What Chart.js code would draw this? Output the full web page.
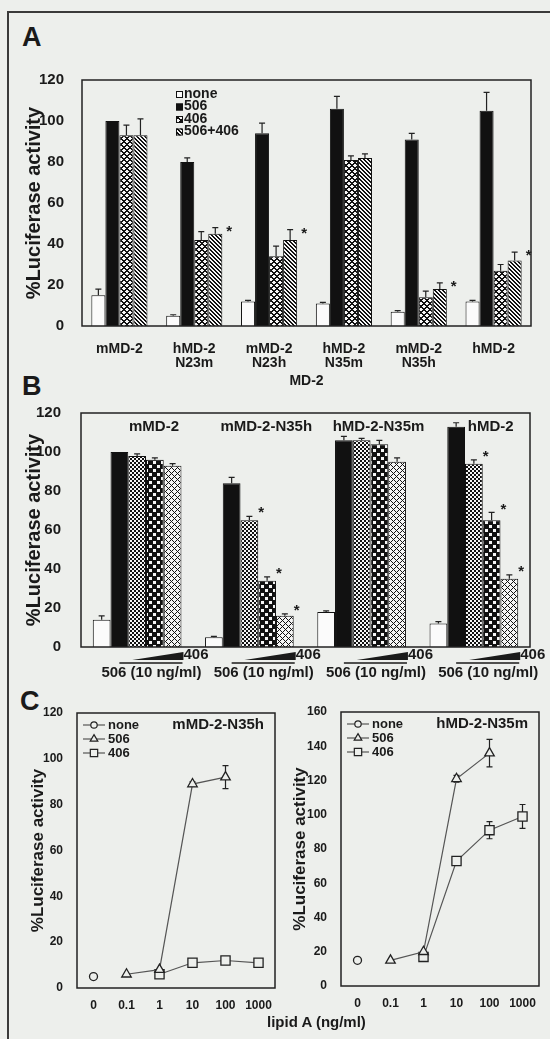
<!DOCTYPE html>
<html>
<head>
<meta charset="utf-8">
<script src="https://cdn.jsdelivr.net/npm/chart.js@4.4.1/dist/chart.umd.min.js"></script>
<style>
  html, body { margin: 0; padding: 0; }
  body { width: 550px; height: 1039px; background: #edefec; position: relative; overflow: hidden;
         font-family: "Liberation Sans", Arial, sans-serif; color: #1a1a1a; }
  canvas { position: absolute; }
  .frame { position: absolute; left: 7px; top: 11px; width: 560px; height: 1040px;
           border-top: 2px solid #3a3a3a; border-left: 2px solid #3a3a3a; }
  .letter { position: absolute; font-weight: bold; font-size: 27px; line-height: 1; }
  .note { position: absolute; font-weight: bold; font-size: 15px; line-height: 1; white-space: nowrap; }
</style>
</head>
<body>
<div class="frame"></div>
<div class="letter" style="left:22px; top:24px">A</div>
<div class="letter" style="left:22px; top:373px">B</div>
<div class="letter" style="left:20px; top:688px">C</div>
<canvas id="chartA" width="550" height="400" style="left:0; top:0"></canvas>
<canvas id="chartB" width="550" height="310" style="left:0; top:380px"></canvas>
<canvas id="chartCLeft" width="290" height="349" style="left:0; top:690px"></canvas>
<canvas id="chartCRight" width="270" height="349" style="left:280px; top:690px"></canvas>
<div class="note" style="left:267px; top:1014px">lipid A (ng/ml)</div>

<script>
    'use strict';

    // ---- panel A: MD-2 chimeras, 4 treatments ----
    const aGroups = [['mMD-2'], ['hMD-2', 'N23m'], ['mMD-2', 'N23h'], ['hMD-2', 'N35m'], ['mMD-2', 'N35h'], ['hMD-2']];
    const aNone = [15, 5, 12, 11, 7, 12];
    const aNoneErr = [3, 0.5, 0.5, 0.5, 0.5, 0.5];
    const a506 = [100, 80, 94, 106, 91, 105];
    const a506Err = [0, 2, 5, 6, 3, 9];
    const a406 = [93, 42, 34, 81, 14, 27];
    const a406Err = [5, 4, 5, 2, 3, 3];
    const aBoth = [93, 45, 42, 82, 18, 32];
    const aBothErr = [8, 3, 5, 2, 3, 4];
    const aStars = [false, true, true, false, true, true];

    // ---- panel B: 506 (10 ng/ml) plus rising 406 ----
    const bGroups = ['mMD-2', 'mMD-2-N35h', 'hMD-2-N35m', 'hMD-2'];
    const bNone = [14, 5, 18, 12];
    const bNoneErr = [2, 0.5, 0.5, 1];
    const b506 = [100, 84, 106, 113];
    const b506Err = [0, 3, 2, 2];
    const b406Low = [98, 65, 106, 94];
    const b406LowErr = [1, 2, 1, 2];
    const b406Mid = [96, 34, 104, 65];
    const b406MidErr = [1, 2, 2, 4];
    const b406High = [93, 16, 95, 35];
    const b406HighErr = [1, 1, 2, 2];
    const bStars = [false, true, false, true];

    // ---- panel C: dose response ----
    const doseLabels = ['0', '0.1', '1', '10', '100', '1000'];
    const cTitles = ['mMD-2-N35h', 'hMD-2-N35m'];
    const cLeftNone = [5, null, null, null, null, null];
    const cLeft506 = [null, 6, 8, 89, 92, null];
    const cLeft506Err = [0, 0, 0, 1, 5, 0];
    const cLeft406 = [null, null, 6, 11, 12, 11];
    const cLeft406Err = [0, 0, 0, 1, 1, 1];
    const cRightNone = [15, null, null, null, null, null];
    const cRight506 = [null, 15, 20, 121, 136, null];
    const cRight506Err = [0, 0, 0, 2, 8, 0];
    const cRight406 = [null, null, 17, 73, 91, 99];
    const cRight406Err = [0, 0, 0, 2, 5, 7];

    const FONT = '"Liberation Sans", Arial, sans-serif';
    const INK = '#1a1a1a';
    const PAPER = '#edefec';

    Chart.defaults.font.family = FONT;
    Chart.defaults.font.weight = 'bold';
    Chart.defaults.color = INK;
    Chart.defaults.animation = false;
    Chart.defaults.responsive = false;
    Chart.defaults.plugins.legend.display = false;
    Chart.defaults.plugins.tooltip.enabled = false;

    function makePattern(size, isDark) {
        const c = document.createElement('canvas');
        c.width = c.height = size;
        const g = c.getContext('2d');
        g.fillStyle = '#f6f6f6';
        g.fillRect(0, 0, size, size);
        g.fillStyle = '#111';
        for (let y = 0; y < size; y++)
            for (let x = 0; x < size; x++)
                if (isDark(x, y)) g.fillRect(x, y, 1, 1);
        return g.createPattern(c, 'repeat');
    }

    const patLattice = makePattern(6, (x, y) => (x + y) % 6 < 2 || (x - y + 6) % 6 < 2);
    const patStripe = makePattern(4, (x, y) => (x - y + 4) % 4 < 2);
    const patFine = makePattern(4, (x, y) => ((x >> 1) + (y >> 1)) % 2 === 0);
    const patCheck = makePattern(8, (x, y) => !((x % 8 >= 1 && x % 8 <= 3 && y % 8 >= 1 && y % 8 <= 3) ||
                                                (x % 8 >= 5 && x % 8 <= 7 && y % 8 >= 5 && y % 8 <= 7)));
    const patThin = makePattern(6, (x, y) => (x + y) % 6 === 0 || (x - y + 6) % 6 === 0);

    // outline round the plot area
    const boxFrame = {
        id: 'boxFrame',
        afterDraw(chart) {
            const { ctx, chartArea: a } = chart;
            ctx.save();
            ctx.strokeStyle = '#222';
            ctx.lineWidth = 1.5;
            ctx.strokeRect(a.left, a.top, a.right - a.left, a.bottom - a.top);
            ctx.restore();
        }
    };

    function drawErrors(chart, opts) {
        const ctx = chart.ctx, ys = chart.scales.y;
        const isLine = chart.config.type === 'line';
        ctx.save();
        ctx.strokeStyle = '#222';
        ctx.lineWidth = 1.2;
        chart.data.datasets.forEach((ds, di) => {
            if (!ds.errors) return;
            const meta = chart.getDatasetMeta(di);
            meta.data.forEach((el, i) => {
                const raw = ds.data[i];
                const v = raw !== null && typeof raw === 'object' ? raw.y : raw;
                if (v == null) return;
                const e = ds.errors[i] || 0;
                const top = ys.getPixelForValue(v + e);
                const bot = isLine ? ys.getPixelForValue(v - e) : el.y;
                if (e > 0) {
                    ctx.beginPath();
                    ctx.moveTo(el.x, bot);
                    ctx.lineTo(el.x, top);
                    ctx.moveTo(el.x - 3, top);
                    ctx.lineTo(el.x + 3, top);
                    if (isLine) {
                        ctx.moveTo(el.x - 3, bot);
                        ctx.lineTo(el.x + 3, bot);
                    }
                    ctx.stroke();
                }
                if (ds.stars && ds.stars[i]) {
                    ctx.fillStyle = INK;
                    ctx.font = 'bold 15px ' + FONT;
                    ctx.textAlign = 'left';
                    ctx.textBaseline = 'middle';
                    ctx.fillText('*', el.x + el.width / 2 + opts.starDx, top + opts.starDy);
                }
            });
        });
        ctx.restore();
    }

    const errorBars = {
        id: 'errorBars',
        beforeDatasetsDraw(chart, args, opts) {
            if (chart.config.type === 'line') drawErrors(chart, opts);
        },
        afterDatasetsDraw(chart, args, opts) {
            if (chart.config.type !== 'line') drawErrors(chart, opts);
        }
    };

    // small key of the bar fills, panel A
    const barLegend = {
        id: 'barLegend',
        afterDraw(chart, args, opts) {
            const { ctx, chartArea } = chart;
            ctx.save();
            ctx.font = 'bold 14px ' + FONT;
            ctx.textBaseline = 'middle';
            ctx.textAlign = 'left';
            chart.data.datasets.forEach((ds, i) => {
                const x = chartArea.left + opts.x, y = chartArea.top + opts.y + i * opts.step;
                ctx.fillStyle = ds.backgroundColor;
                ctx.fillRect(x, y - 3, 7, 7);
                ctx.strokeStyle = '#111';
                ctx.lineWidth = 1;
                ctx.strokeRect(x + 0.5, y - 2.5, 6, 6);
                ctx.fillStyle = INK;
                ctx.fillText(ds.label, x + 8, y);
            });
            ctx.restore();
        }
    };

    // group names inside panel B, over the treated bars
    const groupTitles = {
        id: 'groupTitles',
        afterDraw(chart, args, opts) {
            const { ctx, chartArea } = chart;
            const first = chart.getDatasetMeta(1), last = chart.getDatasetMeta(4);
            ctx.save();
            ctx.font = 'bold 15px ' + FONT;
            ctx.fillStyle = INK;
            ctx.textAlign = 'center';
            ctx.textBaseline = 'middle';
            chart.data.labels.forEach((label, i) => {
                ctx.fillText(label, (first.data[i].x + last.data[i].x) / 2 + opts.dx, chartArea.top + 14);
            });
            ctx.restore();
        }
    };

    // wedge + bar under each panel B group
    const doseWedges = {
        id: 'doseWedges',
        afterDraw(chart, args, opts) {
            const { ctx, chartArea } = chart;
            const base = chartArea.bottom;
            const m506 = chart.getDatasetMeta(1), mLow = chart.getDatasetMeta(2), mHigh = chart.getDatasetMeta(4);
            ctx.save();
            ctx.font = 'bold 15px ' + FONT;
            ctx.fillStyle = INK;
            ctx.strokeStyle = INK;
            ctx.textBaseline = 'middle';
            chart.data.labels.forEach((_, i) => {
                const b = m506.data[i], lo = mLow.data[i], hi = mHigh.data[i];
                const x0 = lo.x - lo.width / 2 + 4, x1 = hi.x + hi.width / 2 + 2;
                ctx.beginPath();
                ctx.moveTo(x0, base + 13);
                ctx.lineTo(x1, base + 5);
                ctx.lineTo(x1, base + 13);
                ctx.closePath();
                ctx.fill();
                ctx.textAlign = 'left';
                ctx.fillText(opts.doseLabel, x1, base + 8);
                ctx.lineWidth = 1.5;
                ctx.beginPath();
                ctx.moveTo(b.x, base + 16);
                ctx.lineTo(x1 - 1, base + 16);
                ctx.stroke();
                ctx.textAlign = 'center';
                ctx.fillText(opts.baseLabel, (b.x + x1) / 2, base + 26);
            });
            ctx.restore();
        }
    };

    function drawMarker(ctx, style, r, x, y) {
        ctx.beginPath();
        if (style === 'circle') {
            ctx.arc(x, y, r, 0, Math.PI * 2);
        } else if (style === 'triangle') {
            ctx.moveTo(x, y - r);
            ctx.lineTo(x + r * 0.866, y + r * 0.5);
            ctx.lineTo(x - r * 0.866, y + r * 0.5);
            ctx.closePath();
        } else {
            const s = r * Math.SQRT1_2;
            ctx.rect(x - s, y - s, 2 * s, 2 * s);
        }
        ctx.fill();
        ctx.stroke();
    }

    // -o- none / -^- 506 / -[]- 406 key and the panel name, panel C
    const lineLegend = {
        id: 'lineLegend',
        afterDraw(chart, args, opts) {
            const { ctx, chartArea } = chart;
            ctx.save();
            ctx.textBaseline = 'middle';
            chart.data.datasets.forEach((ds, i) => {
                const x = chartArea.left + opts.x, y = chartArea.top + opts.y + i * opts.step;
                ctx.strokeStyle = ds.borderColor;
                ctx.lineWidth = 1.2;
                ctx.beginPath();
                ctx.moveTo(x, y);
                ctx.lineTo(x + 22, y);
                ctx.stroke();
                ctx.fillStyle = PAPER;
                ctx.strokeStyle = '#222';
                drawMarker(ctx, ds.pointStyle, ds.pointRadius * 0.8, x + 11, y);
                ctx.fillStyle = INK;
                ctx.font = 'bold 13px ' + FONT;
                ctx.textAlign = 'left';
                ctx.fillText(ds.label, x + 25, y);
            });
            ctx.font = 'bold 15px ' + FONT;
            ctx.textAlign = 'right';
            ctx.fillText(opts.title, chartArea.right - opts.titleRight, chartArea.top + 12);
            ctx.restore();
        }
    };

    function barDataset(label, data, errors, fill, stars) {
        return {
            label: label, data: data, errors: errors, stars: stars,
            backgroundColor: fill, borderColor: '#111', borderWidth: 1
        };
    }

    new Chart(document.getElementById('chartA'), {
        type: 'bar',
        data: {
            labels: aGroups,
            datasets: [
                barDataset('none', aNone, aNoneErr, '#fbfbfb'),
                barDataset('506', a506, a506Err, '#111'),
                barDataset('406', a406, a406Err, patLattice),
                barDataset('506+406', aBoth, aBothErr, patStripe, aStars)
            ]
        },
        options: {
            layout: { padding: { top: 80, right: 19, left: 0, bottom: 0 } },
            datasets: { bar: { categoryPercentage: 0.75, barPercentage: 1 } },
            scales: {
                x: {
                    grid: { display: false },
                    border: { display: false },
                    ticks: { font: { size: 14, lineHeight: 1 }, padding: 8, maxRotation: 0, autoSkip: false },
                    title: { display: true, text: 'MD-2', font: { size: 14 }, padding: { top: 0, bottom: 10 } },
                    afterFit: s => { s.height = 74; }
                },
                y: {
                    min: 0, max: 120,
                    ticks: { stepSize: 20, font: { size: 15 }, padding: 10 },
                    grid: { display: false },
                    border: { display: false },
                    title: { display: true, text: '%Luciferase activity', font: { size: 20 }, padding: { top: 22 } },
                    afterFit: s => { s.width = 82; }
                }
            },
            plugins: {
                errorBars: { starDx: 4, starDy: 4 },
                barLegend: { x: 94, y: 14, step: 12.5 }
            }
        },
        plugins: [boxFrame, errorBars, barLegend]
    });

    new Chart(document.getElementById('chartB'), {
        type: 'bar',
        data: {
            labels: bGroups,
            datasets: [
                barDataset('none', bNone, bNoneErr, '#fbfbfb'),
                barDataset('506', b506, b506Err, '#111'),
                barDataset('406 low', b406Low, b406LowErr, patFine, bStars),
                barDataset('406 mid', b406Mid, b406MidErr, patCheck, bStars),
                barDataset('406 high', b406High, b406HighErr, patThin, bStars)
            ]
        },
        options: {
            layout: { padding: { top: 33, right: 20, left: 0, bottom: 0 } },
            datasets: { bar: { categoryPercentage: 0.79, barPercentage: 1 } },
            scales: {
                x: {
                    grid: { display: false },
                    border: { display: false },
                    ticks: { display: false },
                    afterFit: s => { s.height = 43; }
                },
                y: {
                    min: 0, max: 120,
                    ticks: { stepSize: 20, font: { size: 15 }, padding: 12 },
                    grid: { display: false },
                    border: { display: false },
                    title: { display: true, text: '%Luciferase activity', font: { size: 20 }, padding: { top: 22 } },
                    afterFit: s => { s.width = 81; }
                }
            },
            plugins: {
                errorBars: { starDx: 0, starDy: -3 },
                groupTitles: { dx: 8 },
                doseWedges: { doseLabel: '406', baseLabel: '506 (10 ng/ml)' }
            }
        },
        plugins: [boxFrame, errorBars, groupTitles, doseWedges]
    });

    function points(values) {
        return values.map((v, i) => ({ x: i, y: v }));
    }

    function lineDataset(label, values, errors, style, radius) {
        return {
            label: label, data: points(values), errors: errors,
            borderColor: '#555', borderWidth: 1.2,
            pointStyle: style, pointRadius: radius,
            pointBackgroundColor: PAPER, pointBorderColor: '#222', pointBorderWidth: 1.3,
            spanGaps: false
        };
    }

    function doseChart(id, title, yMax, yWidth, pad, xHeight, titlePad, none, d506, e506, d406, e406) {
        return new Chart(document.getElementById(id), {
            type: 'line',
            data: {
                datasets: [
                    lineDataset('none', none, null, 'circle', 4),
                    lineDataset('506', d506, e506, 'triangle', 5.5),
                    lineDataset('406', d406, e406, 'rect', 6.5)
                ]
            },
            options: {
                layout: { padding: pad },
                scales: {
                    x: {
                        type: 'linear', min: -0.5, max: 5.5,
                        afterBuildTicks: s => { s.ticks = doseLabels.map((_, i) => ({ value: i })); },
                        ticks: { callback: v => doseLabels[v], font: { size: 12 }, padding: 2 },
                        grid: { display: false },
                        border: { display: false },
                        afterFit: s => { s.height = xHeight; }
                    },
                    y: {
                        min: 0, max: yMax,
                        ticks: { stepSize: 20, font: { size: 12 }, padding: 6 },
                        grid: { display: false },
                        border: { display: false },
                        title: { display: true, text: '%Luciferase activity', font: { size: 17 }, padding: { top: titlePad } },
                        afterFit: s => { s.width = yWidth; }
                    }
                },
                plugins: {
                    errorBars: { starDx: 0, starDy: 0 },
                    lineLegend: { x: 6, y: 12, step: 14, title: title, titleRight: 11 }
                }
            },
            plugins: [boxFrame, errorBars, lineLegend]
        });
    }

    doseChart('chartCLeft', cTitles[0], 120, 77, { top: 23, right: 15, left: 0, bottom: 0 }, 51, 28,
        cLeftNone, cLeft506, cLeft506Err, cLeft406, cLeft406Err);
    doseChart('chartCRight', cTitles[1], 160, 61, { top: 22, right: 11, left: 0, bottom: 0 }, 53, 10,
        cRightNone, cRight506, cRight506Err, cRight406, cRight406Err);
</script>
</body>
</html>
